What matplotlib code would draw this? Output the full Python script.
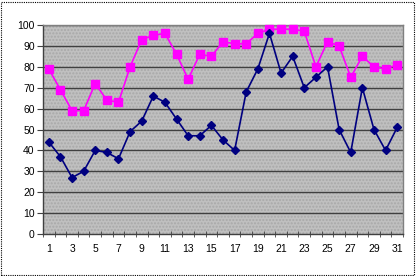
import matplotlib
matplotlib.use("Agg")
import matplotlib.pyplot as plt
from matplotlib.patches import Rectangle

days = list(range(1, 32))
pink_values = [79, 69, 59, 59, 72, 64, 63, 80, 93, 95, 96, 86, 74, 86, 85, 92,
               91, 91, 96, 98, 98, 98, 97, 80, 92, 90, 75, 85, 80, 79, 81]
blue_values = [44, 37, 27, 30, 40, 39, 36, 49, 54, 66, 63, 55, 47, 47, 52, 45,
               40, 68, 79, 96, 77, 85, 70, 75, 80, 50, 39, 70, 50, 40, 51]
y_ticks = list(range(0, 101, 10))
x_labels = [str(d) for d in days if d % 2 == 1]

plt.rcParams['font.family'] = ['Liberation Sans', 'DejaVu Sans']

fig = plt.figure(figsize=(4.18, 2.76), dpi=100)
ax = fig.add_axes([43/418, 42/276, 360/418, 209/276])

ax.set_facecolor('#c0c0c0')
ax.add_patch(Rectangle((0, 0), 1, 1, transform=ax.transAxes, facecolor='none',
                       edgecolor='#a8a8a8', hatch='.....', linewidth=0, zorder=0))

for y in y_ticks[1:]:
    ax.axhline(y, color='#404040', linewidth=1.0, zorder=1)

ax.plot(days, pink_values, color='#ff00ff', linewidth=1.2, marker='s',
        markersize=5.5, markerfacecolor='#ff00ff', markeredgecolor='#ff00ff',
        zorder=3, clip_on=False)
ax.plot(days, blue_values, color='#000080', linewidth=1.2, marker='D',
        markersize=4.5, markerfacecolor='#000080', markeredgecolor='#000080',
        zorder=4, clip_on=False)

ax.set_xlim(0.5, 31.5)
ax.set_ylim(0, 100)
ax.set_yticks(y_ticks)
ax.set_yticklabels([str(v) for v in y_ticks])
ax.set_xticks([d for d in days if d % 2 == 1])
ax.set_xticklabels(x_labels)
ax.set_xticks([d + 0.5 for d in range(0, 32)], minor=True)
ax.tick_params(axis='x', which='major', length=0, pad=7, labelsize=7.5)
ax.tick_params(axis='x', which='minor', length=4, direction='inout', color='#404040')
ax.tick_params(axis='y', length=4, direction='out', labelsize=7.5, pad=2, color='#404040')

for side in ['top', 'right']:
    ax.spines[side].set_color('#808080')
    ax.spines[side].set_linewidth(1.0)
for side in ['left', 'bottom']:
    ax.spines[side].set_color('#404040')
    ax.spines[side].set_linewidth(1.0)

fig.add_artist(Rectangle((1/418, 1/276), 413/418, 273/276, transform=fig.transFigure,
                         fill=False, edgecolor='black', linestyle=(0, (1, 1)), linewidth=0.8))

fig.savefig('out.png', dpi=100)
